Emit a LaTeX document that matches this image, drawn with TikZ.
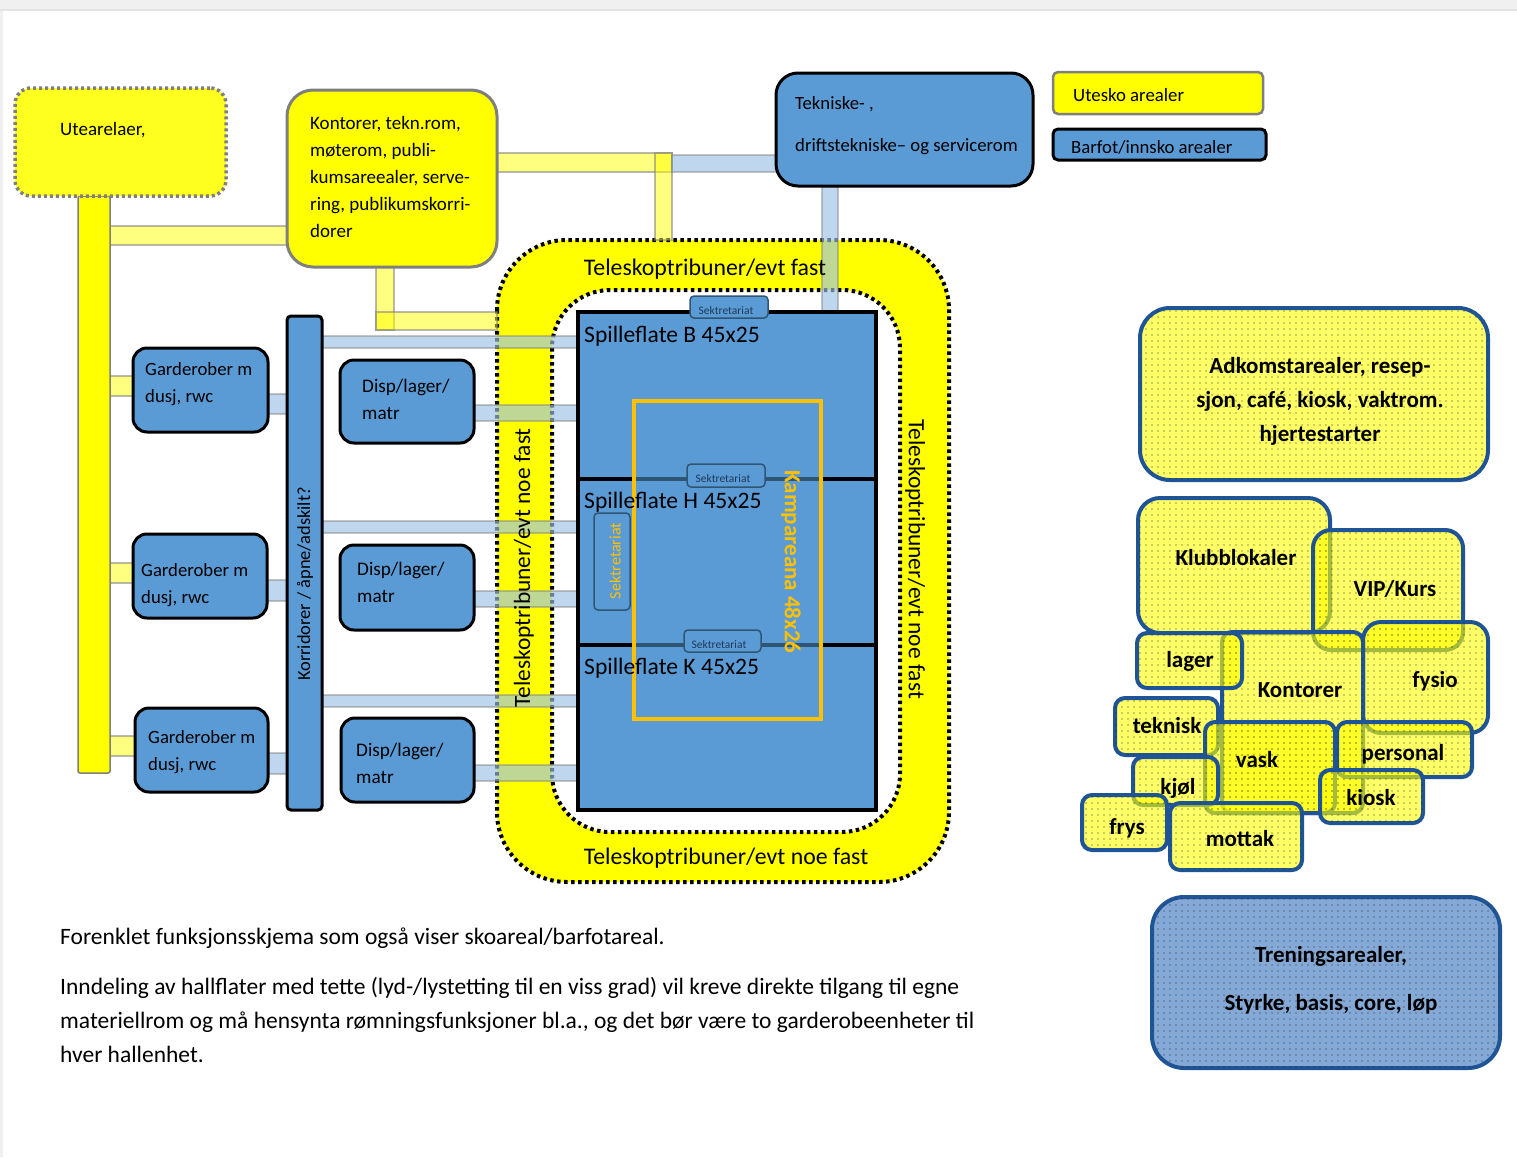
\documentclass[tikz,border=0pt]{standalone}
\usepackage{fontspec}
\setmainfont{Carlito}
\usetikzlibrary{patterns.meta}
\definecolor{yel}{HTML}{FFFF00}
\definecolor{blu}{HTML}{5B9BD5}
\definecolor{lblu}{HTML}{9DC3E6}
\definecolor{dblu}{HTML}{1F5597}
\definecolor{orng}{HTML}{FFC000}
\definecolor{gbord}{HTML}{7F7F7F}
\definecolor{trn}{HTML}{84A9D6}
\definecolor{secline}{HTML}{2F5575}
\definecolor{sectext}{HTML}{1F3A5A}
\tikzset{
  bbox/.style={draw=black, line width=3pt, fill=blu, rounded corners=#1, inner sep=0pt},
  bbox/.default=14pt,
  yconn/.style={fill=yel, fill opacity=0.5, draw=gbord, draw opacity=0.55, line width=1.2pt},
  bconn/.style={fill=lblu, fill opacity=0.65, draw=gbord, draw opacity=0.45, line width=1.2pt},
  cbox/.style={draw=dblu, line width=4pt, rounded corners=#1, fill=yel, fill opacity=0.6, inner sep=0pt,
     postaction={pattern={Dots[distance=6pt,radius=0.65pt]}, pattern color=black!85, fill opacity=1}},
  cbox/.default=10pt,
  tribdot/.style={draw=black, line width=4pt, dash pattern=on 3.5pt off 3.5pt},
  txt/.style={inner sep=0pt, anchor=west, text=black},
  sek/.style={draw=secline, line width=1.5pt, fill=blu, rounded corners=4pt, inner sep=0pt},
  ctxt/.style={inner sep=0pt, anchor=center, text=black, font=\fontsize{23}{23}\selectfont\bfseries},
}
\begin{document}
\begin{tikzpicture}[x=1pt,y=-1pt]
\useasboundingbox (0,0) rectangle (1517,1157);
% page background bands
\fill[white] (0,0) rectangle (1517,1157);
\fill[black!6] (0,0) rectangle (1517,9);
\fill[black!11] (0,9) rectangle (1517,11);
\fill[black!6] (0,11) rectangle (3,1157);

% tribune ring
\path[tribdot, fill=yel, rounded corners=70pt] (497,240) rectangle (949,882);
\path[tribdot, fill=white, rounded corners=58pt] (552,290) rectangle (900,832);

% connectors
\draw[yconn] (110,226) rectangle (288,245);
\draw[yconn] (497,153) rectangle (672,172);
\draw[yconn] (655,153) rectangle (672,240);
\draw[bconn] (672,155) rectangle (776,172);
\draw[bconn] (822,186) rectangle (838,313);
\draw[yconn] (376,267) rectangle (394,330);
\draw[yconn] (376,312) rectangle (497,330);
\draw[bconn] (322,336) rectangle (578,348);
\draw[bconn] (322,521) rectangle (578,533);
\draw[bconn] (322,695) rectangle (578,707);
\draw[bconn] (474,405) rectangle (578,421);
\draw[bconn] (474,591) rectangle (578,607);
\draw[bconn] (474,765) rectangle (578,781);
\draw[yconn] (106,376) rectangle (133,396);
\draw[yconn] (106,563) rectangle (133,583);
\draw[yconn] (106,736) rectangle (135,756);
\draw[bconn] (266,394) rectangle (289,414);
\draw[bconn] (265,580) rectangle (289,601);
\draw[bconn] (266,753) rectangle (289,774);

% yellow vertical bar
\node[draw=gbord, line width=1.5pt, fill=yel, rounded corners=2pt, minimum width=32pt, minimum height=577pt, inner sep=0pt] (ybar) at (94,484.5) {};
% Utearelaer
\node[draw=gbord, line width=3.5pt, dash pattern=on 3pt off 3pt, fill=yel!88!white, rounded corners=16pt, minimum width=211pt, minimum height=108pt, inner sep=0pt] (ute) at (120.5,142) {};
% Kontorer
\node[draw=gbord, line width=3pt, fill=yel, rounded corners=26pt, minimum width=210pt, minimum height=177pt, inner sep=0pt] (kont) at (392,178.5) {};
% Tekniske
\node[bbox=22pt, minimum width=257pt, minimum height=113pt] (tek) at (904.5,129.5) {};
% legend
\node[draw=gbord, line width=2.5pt, fill=yel, rounded corners=5pt, minimum width=210pt, minimum height=42pt, inner sep=0pt] (legy) at (1158,93) {};
\node[bbox=5pt, minimum width=213pt, minimum height=31pt] (legb) at (1159.5,144.5) {};

% playing field
\node[draw=black, line width=4pt, fill=blu, minimum width=298pt, minimum height=498pt, inner sep=0pt] (field) at (727,561) {};
\draw[line width=4pt] (578,479) -- (876,479);
\draw[line width=4pt] (578,645) -- (876,645);
\draw[line width=4pt, secline] (634,479) -- (821,479);
\draw[line width=4pt, secline] (634,645) -- (821,645);
\node[sek, minimum width=78pt, minimum height=22pt] (sek1) at (729,307) {};
\node[sek, minimum width=78pt, minimum height=23pt] (sek2) at (726,475.5) {};
\node[sek, minimum width=77pt, minimum height=22pt] (sek3) at (722.5,641) {};
\node[sek, minimum width=36pt, minimum height=97pt] (sek4) at (612,561.5) {};
\node[draw=orng, line width=4pt, minimum width=187pt, minimum height=318pt, inner sep=0pt] (arena) at (727.5,560) {};

% corridor and rooms
\node[bbox=4pt, minimum width=35pt, minimum height=494pt] (corr) at (304.5,563) {};
\node[bbox, minimum width=135pt, minimum height=84pt] (g1) at (200.5,390) {};
\node[bbox, minimum width=134pt, minimum height=84pt] (g2) at (200,576) {};
\node[bbox, minimum width=133pt, minimum height=84pt] (g3) at (201.5,750) {};
\node[bbox, minimum width=134pt, minimum height=83pt] (d1) at (407,401.5) {};
\node[bbox, minimum width=134pt, minimum height=85pt] (d2) at (407,587.5) {};
\node[bbox, minimum width=133pt, minimum height=84pt] (d3) at (407.5,760) {};

% right cluster
\node[cbox=30pt, minimum width=348pt, minimum height=172pt] (adk) at (1314,394) {};
\node[cbox=22pt, minimum width=192pt, minimum height=135pt] (klubb) at (1234,565.5) {};
\node[cbox=18pt, minimum width=150pt, minimum height=120pt] (vip) at (1388,590) {};
\node[cbox=18pt, minimum width=125pt, minimum height=111pt] (fys) at (1425.5,677.5) {};
\node[cbox, minimum width=141pt, minimum height=181pt] (kontr) at (1292.5,722.5) {};
\node[cbox, minimum width=105pt, minimum height=55pt] (lag) at (1189.5,660.5) {};
\node[cbox, minimum width=103pt, minimum height=57pt] (tekn) at (1166.5,726.5) {};
\node[cbox, minimum width=130pt, minimum height=91pt] (vask) at (1270,767.5) {};
\node[cbox, minimum width=135pt, minimum height=55pt] (pers) at (1404.5,749.5) {};
\node[cbox, minimum width=85pt, minimum height=48pt] (kjol) at (1175.5,781) {};
\node[cbox, minimum width=103pt, minimum height=53pt] (kio) at (1371.5,796.5) {};
\node[cbox, minimum width=85pt, minimum height=55pt] (fry) at (1124.5,822.5) {};
\node[cbox, minimum width=132pt, minimum height=67pt] (mot) at (1236,836.5) {};
\node[cbox=32pt, fill=trn, fill opacity=1, minimum width=348pt, minimum height=171pt] (tren) at (1326,982.5) {};

% ---------- texts ----------
\node[txt, font=\fontsize{19}{19}\selectfont] (tute) at (60,130) {Utearelaer,};
\node[txt, align=left, font=\fontsize{19}{27}\selectfont] (tkont) at (310,176.5) {Kontorer, tekn.rom,\\møterom, publi-\\kumsareealer, serve-\\ring, publikumskorri-\\dorer};
\node[txt, align=left, font=\fontsize{18.7}{42}\selectfont] (ttek) at (795,126) {Tekniske- ,\\driftstekniske– og servicerom};
\node[txt, font=\fontsize{18.8}{18.8}\selectfont] (tlegy) at (1073,95) {Utesko arealer};
\node[txt, font=\fontsize{18.7}{18.7}\selectfont] (tlegb) at (1071,147) {Barfot/innsko arealer};

\node[txt, font=\fontsize{23.6}{23.6}\selectfont] (tb) at (584,336) {Spilleflate B 45x25};
\node[txt, font=\fontsize{23.6}{23.6}\selectfont] (th) at (584,502) {Spilleflate H 45x25};
\node[txt, font=\fontsize{23.6}{23.6}\selectfont] (tk) at (584,668) {Spilleflate K 45x25};
\node[txt, anchor=center, font=\fontsize{23.8}{23.8}\selectfont] (trt) at (705,269) {Teleskoptribuner/evt fast};
\node[txt, anchor=center, font=\fontsize{23.8}{23.8}\selectfont] (trb) at (726,858) {Teleskoptribuner/evt noe fast};
\node[txt, anchor=center, rotate=90, font=\fontsize{23.4}{23.4}\selectfont] (trl) at (524,568) {Teleskoptribuner/evt noe fast};
\node[txt, anchor=center, rotate=-90, font=\fontsize{23.4}{23.4}\selectfont] (trr) at (915,559) {Teleskoptribuner/evt noe fast};
\node[txt, anchor=center, rotate=-90, text=orng, font=\fontsize{23}{23}\selectfont\bfseries] (tarena) at (791,562) {Kampareana 48x26};
\node[txt, anchor=center, text=sectext, font=\fontsize{11.5}{11.5}\selectfont] (ts1) at (726,311) {Sektretariat};
\node[txt, anchor=center, text=sectext, font=\fontsize{11.5}{11.5}\selectfont] (ts2) at (723,479) {Sektretariat};
\node[txt, anchor=center, text=sectext, font=\fontsize{11.5}{11.5}\selectfont] (ts3) at (719,645) {Sektretariat};
\node[txt, anchor=center, rotate=90, text=orng, font=\fontsize{16}{16}\selectfont] (ts4) at (615,561) {Sektretariat};

\node[txt, anchor=center, rotate=90, font=\fontsize{18.4}{18.4}\selectfont] (tcorr) at (305,584) {Korridorer / åpne/adskilt?};
\node[txt, align=left, font=\fontsize{18.7}{27}\selectfont] (tg1) at (145,384.5) {Garderober m\\dusj, rwc};
\node[txt, align=left, font=\fontsize{18.7}{27}\selectfont] (tg2) at (141,585.5) {Garderober m\\dusj, rwc};
\node[txt, align=left, font=\fontsize{18.7}{27}\selectfont] (tg3) at (148,752) {Garderober m\\dusj, rwc};
\node[txt, align=left, font=\fontsize{19.2}{27}\selectfont] (td1) at (362,399.5) {Disp/lager/\\matr};
\node[txt, align=left, font=\fontsize{19.2}{27}\selectfont] (td2) at (357,582) {Disp/lager/\\matr};
\node[txt, align=left, font=\fontsize{19.2}{27}\selectfont] (td3) at (356,763) {Disp/lager/\\matr};

\node[ctxt, align=center, font=\fontsize{23}{34}\selectfont\bfseries] (tadk) at (1320,401) {Adkomstarealer, resep-\\sjon, café, kiosk, vaktrom.\\hjertestarter};
\node[ctxt] (tklubb) at (1236,558) {Klubblokaler};
\node[ctxt] (tvip) at (1395,589) {VIP/Kurs};
\node[ctxt] (tfys) at (1435,681) {fysio};
\node[ctxt] (tlag) at (1190,661) {lager};
\node[ctxt] (tkontr) at (1300,690) {Kontorer};
\node[ctxt] (ttekn) at (1167,726) {teknisk};
\node[ctxt] (tvask) at (1257,760) {vask};
\node[ctxt] (tpers) at (1403,754) {personal};
\node[ctxt] (tkjol) at (1178,788) {kjøl};
\node[ctxt] (tkio) at (1371,798) {kiosk};
\node[ctxt] (tfry) at (1127,828) {frys};
\node[ctxt] (tmot) at (1240,838) {mottak};
\node[ctxt, align=center, font=\fontsize{23}{48}\selectfont\bfseries] (ttren) at (1331,980) {Treningsarealer,\\Styrke, basis, core, løp};

\node[txt, font=\fontsize{23.5}{23.5}\selectfont] (tp1) at (60,938) {Forenklet funksjonsskjema som også viser skoareal/barfotareal.};
\node[txt, align=left, font=\fontsize{23.5}{34}\selectfont] (tp2) at (60,1020) {Inndeling av hallflater med tette (lyd-/lystetting til en viss grad) vil kreve direkte tilgang til egne\\materiellrom og må hensynta rømningsfunksjoner bl.a., og det bør være to garderobeenheter til\\hver hallenhet.};
\end{tikzpicture}
\end{document}
